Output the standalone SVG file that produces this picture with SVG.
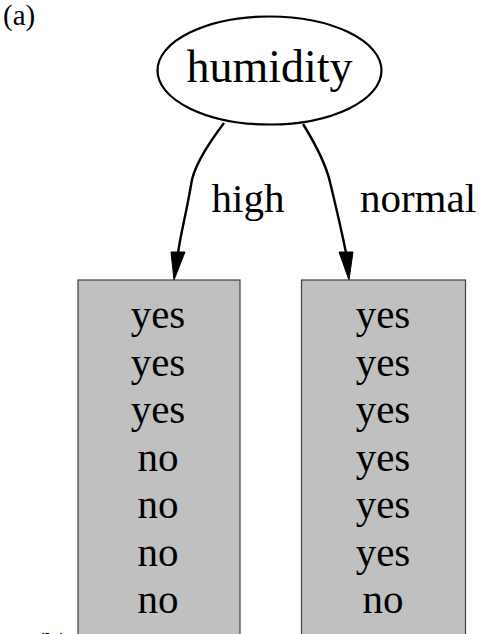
<svg xmlns="http://www.w3.org/2000/svg" width="481" height="634" viewBox="0 0 481 634">
  <style>
    text { font-family: "Liberation Serif", "Times New Roman", serif; fill: #000; }
    .lbl { font-size: 41px; text-anchor: middle; }
    .tag { font-size: 29px; }
    .leaf { fill: #c0c0c0; stroke: #404040; stroke-width: 1.2; }
    .edge { fill: none; stroke: #000; stroke-width: 2.4; }
    .head { fill: #000; stroke: #000; stroke-width: 1; }
  </style>
  <rect width="481" height="634" fill="#fff"/>
  <text class="tag" x="3" y="25">(a)</text>
  <text class="tag" x="35" y="653">(b)</text>

  <g id="connectors">
    <g id="edge-high">
      <path class="edge" d="M224,123 C205,148 193,168 191,185 C187,210 181,232 178,253"/>
      <polygon class="head" points="171,252 185,252 174,280"/>
      <text class="lbl" x="248" y="212">high</text>
    </g>
    <g id="edge-normal">
      <path class="edge" d="M303,124 C316,145 326,165 330,182 C336,207 342,232 346,253"/>
      <polygon class="head" points="339,252 353,252 349,280"/>
      <text class="lbl" x="418" y="212">normal</text>
    </g>
  </g>

  <g id="humidity">
    <ellipse cx="269.5" cy="70.5" rx="112" ry="54" fill="#fff" stroke="#000" stroke-width="2.2"/>
    <text x="269.5" y="82" style="font-size:46px;text-anchor:middle">humidity</text>
  </g>

  <g id="leaf-high">
    <rect class="leaf" x="78" y="280" width="162" height="370"/>
    <text class="lbl" x="158" y="328">yes</text>
    <text class="lbl" x="158" y="375.5">yes</text>
    <text class="lbl" x="158" y="423">yes</text>
    <text class="lbl" x="158" y="470.5">no</text>
    <text class="lbl" x="158" y="518">no</text>
    <text class="lbl" x="158" y="565.5">no</text>
    <text class="lbl" x="158" y="613">no</text>
  </g>

  <g id="leaf-normal">
    <rect class="leaf" x="301.5" y="280" width="164" height="370"/>
    <text class="lbl" x="383" y="328">yes</text>
    <text class="lbl" x="383" y="375.5">yes</text>
    <text class="lbl" x="383" y="423">yes</text>
    <text class="lbl" x="383" y="470.5">yes</text>
    <text class="lbl" x="383" y="518">yes</text>
    <text class="lbl" x="383" y="565.5">yes</text>
    <text class="lbl" x="383" y="613">no</text>
  </g>
</svg>
